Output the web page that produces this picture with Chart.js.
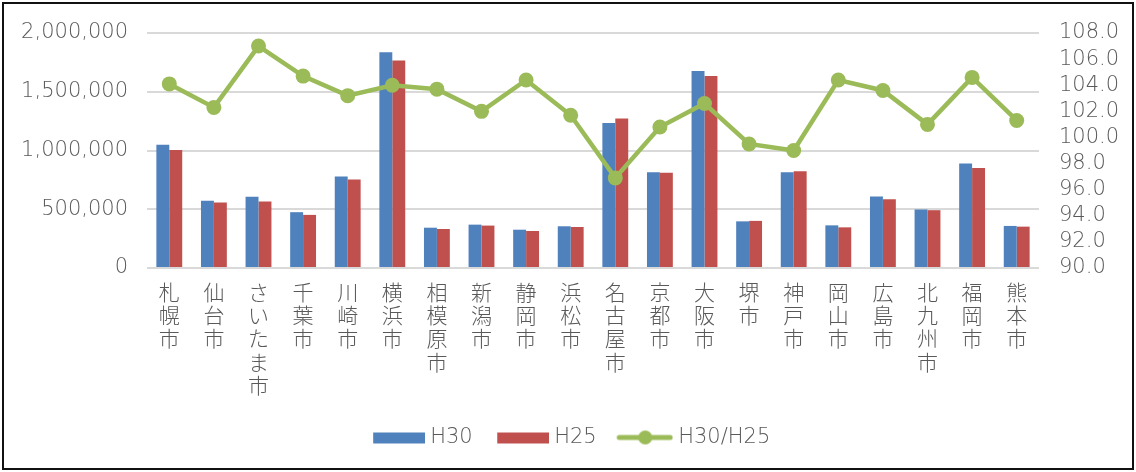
<!DOCTYPE html>
<html>
<head>
<meta charset="utf-8">
<script src="https://cdn.jsdelivr.net/npm/chart.js@4/dist/chart.umd.min.js"></script>
<style>
  body { margin: 0; background: #fff; }
  .frame {
    position: absolute; left: 2px; top: 2px;
    width: 1132px; height: 468px;
    box-sizing: border-box; border: 2px solid #111;
  }
</style>
</head>
<body>
<div class="frame"><canvas id="myChart" width="1128" height="464"></canvas></div>
<script>
// cities (vertical labels) and values
const cities = ['札幌市', '仙台市', 'さいたま市', '千葉市', '川崎市', '横浜市', '相模原市', '新潟市', '静岡市', '浜松市',
  '名古屋市', '京都市', '大阪市', '堺市', '神戸市', '岡山市', '広島市', '北九州市', '福岡市', '熊本市'];
const h30 = [1050000, 572000, 607000, 475000, 778000, 1837000, 343000, 369000, 326000, 355000,
  1233000, 815000, 1677000, 397000, 815000, 363000, 609000, 498000, 890000, 358000];
const h25 = [1004000, 558000, 567000, 452000, 753000, 1766000, 332000, 361000, 315000, 349000,
  1273000, 810000, 1634000, 401000, 824000, 346000, 586000, 492000, 852000, 352000];
const ratio = [104.1, 102.3, 107.0, 104.7, 103.2, 104.0, 103.7, 102.0, 104.4, 101.7,
  96.9, 100.8, 102.6, 99.5, 99.0, 104.4, 103.6, 101.0, 104.6, 101.3];

const BLUE = '#4f81bd';
const RED = '#c0504d';
const GREEN = '#9bbb59';
const TEXT = '#595959';
const CJK = '"Noto Sans CJK JP", "Noto Sans", sans-serif';
const NUM = '"DejaVu Sans", "Noto Sans", sans-serif';

// legend markers: drawn at the right end of a 58px wide picture
function boxIcon(color) {
  const c = document.createElement('canvas');
  c.width = 58; c.height = 16;
  const g = c.getContext('2d');
  g.fillStyle = color;
  g.fillRect(6, 3, 52, 11);
  return c;
}
function lineIcon(color) {
  const c = document.createElement('canvas');
  c.width = 58; c.height = 16;
  const g = c.getContext('2d');
  g.strokeStyle = color;
  g.lineWidth = 5;
  g.lineCap = 'round';
  g.beginPath(); g.moveTo(4, 8); g.lineTo(55, 8); g.stroke();
  g.fillStyle = color;
  g.beginPath(); g.arc(30, 8, 7, 0, Math.PI * 2); g.fill();
  return c;
}
const icons = [boxIcon(BLUE), boxIcon(RED), lineIcon(GREEN)];

// no extra room for the end labels, the layout padding handles it
const noPad = (scale) => { scale.paddingTop = 0; scale.paddingBottom = 0; };

new Chart(document.getElementById('myChart'), {
  type: 'bar',
  data: {
    labels: cities.map(c => c.split('')),
    datasets: [
      {
        label: 'H30',
        data: h30,
        backgroundColor: BLUE,
        yAxisID: 'y',
        order: 1,
        categoryPercentage: 0.58,
        barPercentage: 1.0
      },
      {
        label: 'H25',
        data: h25,
        backgroundColor: RED,
        yAxisID: 'y',
        order: 1,
        categoryPercentage: 0.58,
        barPercentage: 1.0
      },
      {
        type: 'line',
        label: 'H30/H25',
        data: ratio,
        borderColor: GREEN,
        backgroundColor: GREEN,
        borderWidth: 4.5,
        pointRadius: 7.5,
        pointBorderWidth: 0,
        pointBackgroundColor: GREEN,
        tension: 0,
        yAxisID: 'y2',
        order: 0
      }
    ]
  },
  options: {
    responsive: false,
    animation: false,
    layout: { padding: { top: 29, bottom: 10, left: 7, right: 0 } },
    scales: {
      x: {
        grid: { display: false, drawTicks: false },
        border: { display: false },
        ticks: {
          color: TEXT,
          padding: 12,
          maxRotation: 0,
          autoSkip: false,
          font: { family: CJK, size: 21, weight: '300', lineHeight: 1.11 }
        },
        afterFit: (scale) => { scale.height = 135; }
      },
      y: {
        position: 'left',
        min: 0,
        max: 2000000,
        grid: { color: '#d9d9d9', lineWidth: 2, drawTicks: false },
        border: { display: false },
        ticks: {
          stepSize: 500000,
          color: TEXT,
          padding: 19,
          font: { family: NUM, size: 21, weight: '200' },
          callback: (v) => v.toLocaleString('en-US')
        },
        afterFit: (scale) => { scale.width = 136; noPad(scale); }
      },
      y2: {
        position: 'right',
        min: 90,
        max: 108,
        grid: { drawOnChartArea: false, drawTicks: false },
        border: { display: false },
        ticks: {
          stepSize: 2,
          autoSkip: false,
          color: TEXT,
          padding: 20,
          font: { family: NUM, size: 21, weight: '200', lineHeight: 1 },
          callback: (v) => v.toFixed(1)
        },
        afterFit: (scale) => { scale.width = 93; noPad(scale); }
      }
    },
    plugins: {
      tooltip: { enabled: false },
      legend: {
        position: 'bottom',
        labels: {
          color: TEXT,
          font: { family: NUM, size: 21, weight: '200' },
          padding: 24,
          usePointStyle: true,
          pointStyleWidth: 47,
          sort: (a, b) => a.datasetIndex - b.datasetIndex,
          generateLabels: (chart) => {
            const items = Chart.defaults.plugins.legend.labels.generateLabels(chart);
            items.forEach(it => { it.pointStyle = icons[it.datasetIndex]; });
            return items;
          }
        }
      }
    }
  }
});
</script>
</body>
</html>
